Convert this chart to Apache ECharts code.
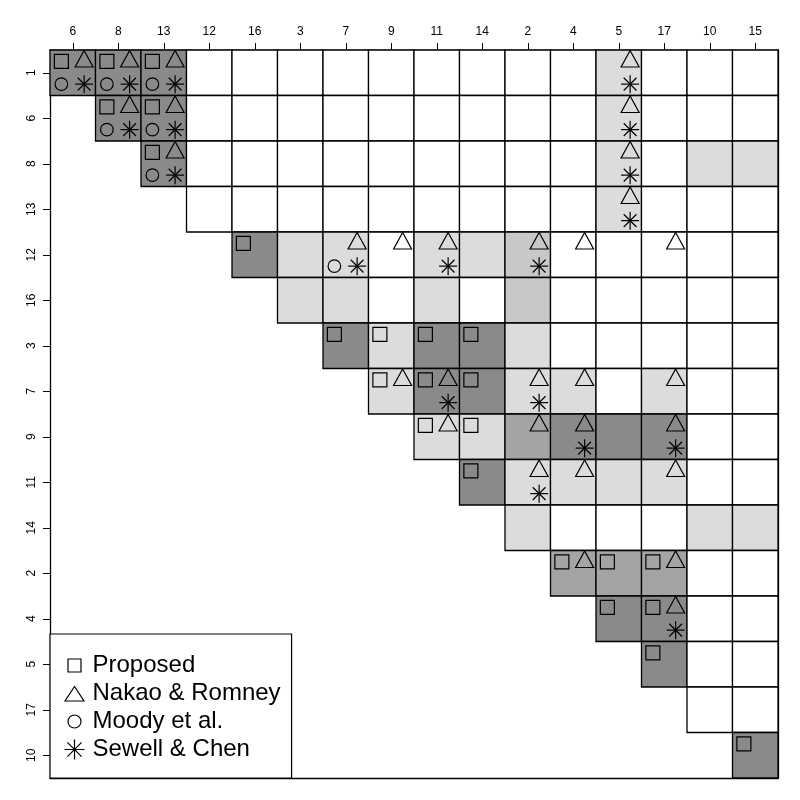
<!DOCTYPE html>
<html><head><meta charset="utf-8">
<script src="https://cdn.jsdelivr.net/npm/echarts@6/dist/echarts.min.js"></script>
<style>html,body{margin:0;padding:0;background:#fff}#c{width:800px;height:800px}</style>
</head><body><div id="c"></div>
<script>
// Column and row labels (order as in the reference)
const colLabels = ['6','8','13','12','16','3','7','9','11','14','2','4','5','17','10','15'];
const rowLabels = ['1','6','8','13','12','16','3','7','9','11','14','2','4','5','17','10'];

// Shade level of each cell in the upper triangle: row r holds columns r..15
// 0 = white, 1 = light gray, 2 = medium gray, 3 = mid-dark gray, 4 = dark gray
const shadeRows = [
  [4,4,4,0,0,0,0,0,0,0,0,0,1,0,0,0],
  [4,4,0,0,0,0,0,0,0,0,0,1,0,0,0],
  [4,0,0,0,0,0,0,0,0,0,1,0,1,1],
  [0,0,0,0,0,0,0,0,0,1,0,0,0],
  [4,1,1,0,1,1,2,0,0,0,0,0],
  [1,1,0,1,0,2,0,0,0,0,0],
  [4,1,4,4,1,0,0,0,0,0],
  [1,4,4,1,1,0,1,0,0],
  [1,1,3,4,4,4,0,0],
  [4,1,1,1,1,0,0],
  [1,0,0,0,1,1],
  [3,3,3,0,0],
  [4,4,0,0],
  [4,0,0],
  [0,0],
  [4]
];
const shadeColors = ['#ffffff','#dcdcdc','#c8c8c8','#a4a4a4','#8a8a8a'];

// Method marks: [row index, column index]
const proposed = [[0,0],[0,1],[0,2],[1,1],[1,2],[2,2],[4,4],[6,6],[6,7],[6,8],[6,9],[7,7],[7,8],[7,9],[8,8],[8,9],[9,9],[11,11],[11,12],[11,13],[12,12],[12,13],[13,13],[15,15]];
const nakaoRomney = [[0,0],[0,1],[0,2],[0,12],[1,1],[1,2],[1,12],[2,2],[2,12],[3,12],[4,6],[4,7],[4,8],[4,10],[4,11],[4,13],[7,7],[7,8],[7,10],[7,11],[7,13],[8,8],[8,10],[8,11],[8,13],[9,10],[9,11],[9,13],[11,11],[11,13],[12,13]];
const moody = [[0,0],[0,1],[0,2],[1,1],[1,2],[2,2],[4,6]];
const sewellChen = [[0,0],[0,1],[0,2],[0,12],[1,1],[1,2],[1,12],[2,2],[2,12],[3,12],[4,6],[4,8],[4,10],[7,8],[7,10],[8,11],[8,13],[9,10],[12,13]];

const FONT = '"Liberation Sans", Arial, sans-serif';
const cellData = [];
shadeRows.forEach((row, r) => row.forEach((lv, k) => cellData.push([r + k, r, lv])));

const lineStyle = { fill: 'none', stroke: '#000', lineWidth: 1.2 };

function markSeries(name, pairs, qx, qy, draw) {
  return {
    type: 'custom', name: name, coordinateSystem: 'cartesian2d',
    xAxisIndex: 0, yAxisIndex: 0,
    data: pairs.map(p => [p[1], p[0]]),
    encode: { x: 0, y: 1 }, z: 5, silent: true, animation: false,
    renderItem: function (params, api) {
      const c = api.coord([api.value(0), api.value(1)]);
      const s = api.size([1, 1]);
      return draw(c[0] + qx * s[0], c[1] + qy * s[1]);
    }
  };
}

const drawSquare = (x, y) => ({ type: 'rect', shape: { x: x - 7, y: y - 7, width: 14, height: 14 }, style: lineStyle });
const drawTriangle = (x, y) => ({ type: 'polygon', shape: { points: [[x, y - 10.8], [x + 9, y + 5.6], [x - 9, y + 5.6]] }, style: lineStyle });
const drawCircle = (x, y) => ({ type: 'circle', shape: { cx: x, cy: y, r: 6.3 }, style: lineStyle });
const drawStar = (x, y) => {
  const a = 9, d = 6.4;
  const seg = (x1, y1, x2, y2) => ({ type: 'line', shape: { x1, y1, x2, y2 }, style: { stroke: '#000', lineWidth: 1.2 } });
  return { type: 'group', children: [
    seg(x - a, y, x + a, y), seg(x, y - a, x, y + a),
    seg(x - d, y - d, x + d, y + d), seg(x - d, y + d, x + d, y - d)
  ] };
};

const chart = echarts.init(document.getElementById('c'), null, { renderer: 'canvas' });
chart.setOption({
  backgroundColor: '#ffffff',
  animation: false,
  grid: { left: 50, top: 50, right: 22, bottom: 22, containLabel: false },
  xAxis: [
    { type: 'category', data: colLabels, position: 'top',
      axisLine: { show: true, lineStyle: { color: '#000', width: 1.3 } },
      axisTick: { show: true, alignWithLabel: true, length: 7, lineStyle: { color: '#000', width: 1 } },
      axisLabel: { show: true, interval: 0, margin: 12, color: '#000', fontSize: 12, fontFamily: FONT },
      splitLine: { show: false } },
    { type: 'category', data: colLabels, position: 'bottom',
      axisLine: { show: true, lineStyle: { color: '#000', width: 1.3 } },
      axisTick: { show: false }, axisLabel: { show: false }, splitLine: { show: false } }
  ],
  yAxis: [
    { type: 'category', data: rowLabels, position: 'left', inverse: true,
      axisLine: { show: true, lineStyle: { color: '#000', width: 1.3 } },
      axisTick: { show: true, alignWithLabel: true, length: 7, lineStyle: { color: '#000', width: 1 } },
      axisLabel: { show: true, interval: 0, rotate: 90, margin: 12, color: '#000', fontSize: 12, fontFamily: FONT },
      splitLine: { show: false } },
    { type: 'category', data: rowLabels, position: 'right', inverse: true,
      axisLine: { show: true, lineStyle: { color: '#000', width: 1.3 } },
      axisTick: { show: false }, axisLabel: { show: false }, splitLine: { show: false } }
  ],
  legend: {
    orient: 'vertical', left: 50, top: 634,
    padding: [19, 11, 16, 12], itemGap: 3, itemWidth: 20, itemHeight: 20,
    backgroundColor: '#ffffff', borderColor: '#000', borderWidth: 1.2,
    selectedMode: false,
    itemStyle: { color: 'none', borderColor: '#000', borderWidth: 1.2 },
    textStyle: { fontSize: 24, lineHeight: 24, color: '#000', fontFamily: FONT, padding: [0, 0, 0, 3] },
    data: [
      { name: 'Proposed', icon: 'path://M0 0M20 20M3.5 3.5L16.5 3.5L16.5 16.5L3.5 16.5Z' },
      { name: 'Nakao & Romney', icon: 'path://M0 0M20 20M10 3L19.5 17.5L0.5 17.5Z' },
      { name: 'Moody et al.', icon: 'path://M0 0M20 20M16.5 10A6.5 6.5 0 1 1 3.5 10A6.5 6.5 0 1 1 16.5 10Z' },
      { name: 'Sewell & Chen', icon: 'path://M10 0L10 20M0 10L20 10M2.9 2.9L17.1 17.1M2.9 17.1L17.1 2.9' }
    ]
  },
  series: [
    {
      type: 'custom', name: 'cells', coordinateSystem: 'cartesian2d',
      xAxisIndex: 0, yAxisIndex: 0, data: cellData, encode: { x: 0, y: 1 },
      z: 2, silent: true,
      renderItem: function (params, api) {
        const c = api.coord([api.value(0), api.value(1)]);
        const s = api.size([1, 1]);
        return { type: 'rect',
          shape: { x: c[0] - s[0] / 2, y: c[1] - s[1] / 2, width: s[0], height: s[1] },
          style: { fill: shadeColors[api.value(2)], stroke: '#000', lineWidth: 1.3 } };
      }
    },
    markSeries('Proposed', proposed, -0.25, -0.25, drawSquare),
    markSeries('Nakao & Romney', nakaoRomney, 0.25, -0.25, drawTriangle),
    markSeries('Moody et al.', moody, -0.25, 0.25, drawCircle),
    markSeries('Sewell & Chen', sewellChen, 0.25, 0.25, drawStar)
  ]
});
</script></body></html>
